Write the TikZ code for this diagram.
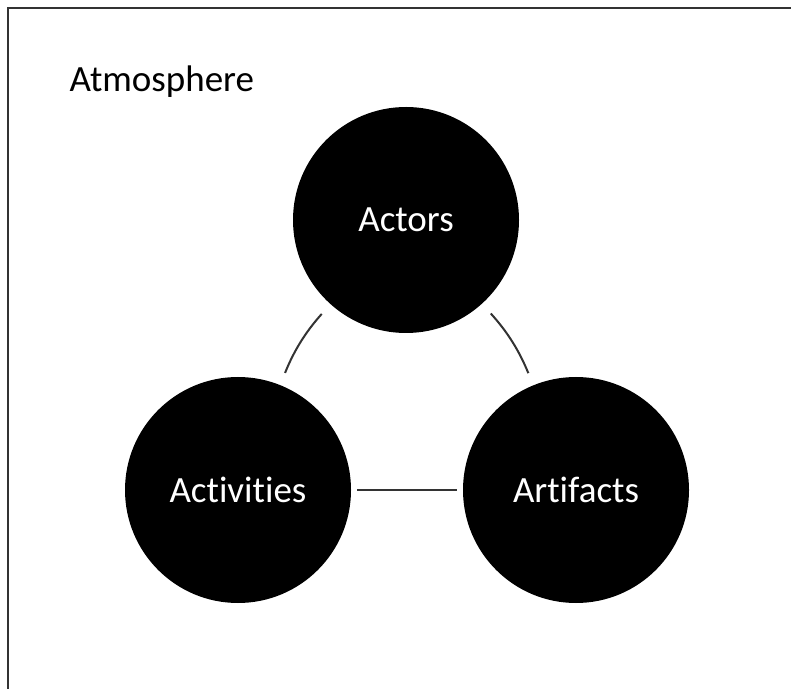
\documentclass[tikz,border=0pt]{standalone}
\usepackage{fontspec}
\setmainfont{Carlito}[Ligatures={NoCommon,NoContextual}]

\begin{document}
\begin{tikzpicture}[x=1pt,y=1pt,
  blob/.style={circle,fill=black,minimum size=226pt,inner sep=0pt,text=white,font=\fontsize{37}{40}\selectfont},
  link/.style={line width=2pt,draw=black!80,shorten >=13pt,shorten <=13pt}]
\useasboundingbox (0,0) rectangle (791,688);
\clip (0,0) rectangle (791,688);
\fill[white] (0,0) rectangle (791,688);
\draw[line width=2pt,black!80] (8,-20) -- (8,680) -- (820,680);

\node[anchor=base west,font=\fontsize{37}{40}\selectfont] (atmo) at (66,596) {Atmosphere};

\node[blob] (actors) at (406,468) {Actors};
\node[blob] (activities) at (238,198) {Activities};
\node[blob] (artifacts) at (576,198) {Artifacts};

\draw[link] (actors) to[bend right=10] (activities);
\draw[link] (actors) to[bend left=10] (artifacts);
\draw[link,shorten >=6pt,shorten <=6pt] (activities) -- (artifacts);
\end{tikzpicture}
\end{document}
